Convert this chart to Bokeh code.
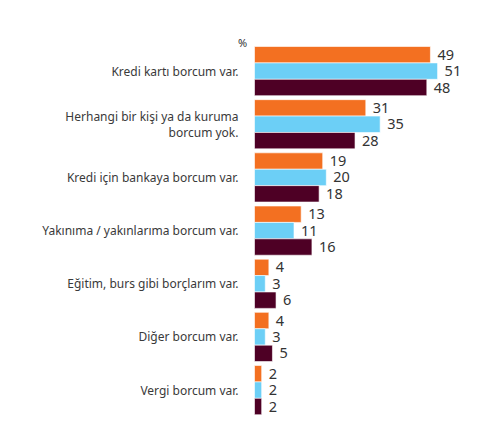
from bokeh.plotting import figure
from bokeh.models import Range1d, ColumnDataSource
from bokeh.core.properties import value
from bokeh.embed import file_html
from bokeh.resources import INLINE

categories = [
    "Kredi kartı borcum var.",
    "Herhangi bir kişi ya da kuruma\nborcum yok.",
    "Kredi için bankaya borcum var.",
    "Yakınıma / yakınlarıma borcum var.",
    "Eğitim, burs gibi borçlarım var.",
    "Diğer borcum var.",
    "Vergi borcum var.",
]
series_a = [49, 31, 19, 13, 4, 4, 2]   # orange
series_b = [51, 35, 20, 11, 3, 3, 2]   # light blue
series_c = [48, 28, 18, 16, 6, 5, 2]   # maroon
colors = ["#F37021", "#6CCFF6", "#4E0025"]
unit_label = "%"

W, H = 488, 420
px_per_unit_x = 3.59
bar_start_px = 254.0
px_per_group = 53.17
first_center_px = 70.6

x0 = -bar_start_px / px_per_unit_x
x1 = (W - bar_start_px) / px_per_unit_x
y_top = -first_center_px / px_per_group
y_bot = (H - first_center_px) / px_per_group

p = figure(width=W, height=H, output_backend="svg", toolbar_location=None,
           x_range=Range1d(x0, x1), y_range=Range1d(y_bot, y_top),
           min_border=0, outline_line_color=None)
p.axis.visible = False
p.grid.visible = False
p.background_fill_color = "white"
p.border_fill_color = "white"

bh = 16.4 / px_per_group
idx = list(range(len(categories)))
for k, (vals, col) in enumerate(zip([series_a, series_b, series_c], colors)):
    ys = [i + (k - 1) * bh for i in idx]
    src = ColumnDataSource(dict(y=ys, v=vals, t=[str(v) for v in vals]))
    p.hbar(y="y", right="v", left=0, height=bh, source=src, fill_color=col,
           line_color="white", line_alpha=0.6, line_width=1)
    p.text(x="v", y="y", text="t", source=src, x_offset=7,
           text_align="left", text_baseline="middle", text_color="#333333",
           text_font=value("Noto Sans"), text_font_size="14.5px")

lab = ColumnDataSource(dict(y=idx, t=categories))
p.text(x=0, y="y", text="t", source=lab, x_offset=-16, text_align="right",
       text_baseline="middle", text_color="#3a3a3a", text_line_height=0.95,
       text_font=value("Noto Sans"), text_font_size="12px")

p.text(x=[0], y=[0 - 1.5 * bh], text=[unit_label], x_offset=-12, y_offset=-4,
       text_align="center", text_baseline="middle", text_color="#333333",
       text_font=value("Noto Sans"), text_font_size="11px")

open("out.html", "w").write(file_html(p, INLINE))
